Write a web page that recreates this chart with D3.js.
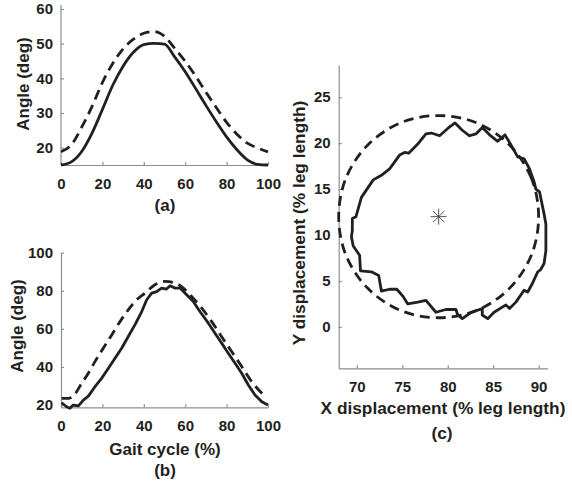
<!DOCTYPE html>
<html><head><meta charset="utf-8">
<script src="https://cdn.jsdelivr.net/npm/d3@7"></script>
<style>
html,body{margin:0;padding:0;background:#fff;}
svg{display:block;}
text{font-family:"Liberation Sans",Arial,sans-serif;font-weight:bold;fill:#231f20;}
</style></head>
<body><svg id="c" width="572" height="489"></svg>
<script>
// ---- Panel (a): angle vs gait cycle ----
const aX = [0,5,10,15,20,25,30,35,40,45,50,55,60,65,70,75,80,85,90,95,100];
const aSolid = [15.0,15.9,18.9,24.2,31.0,38.0,43.5,47.5,49.7,50.1,49.9,46.1,41.9,37.1,32.2,27.5,23.1,19.4,16.5,15.2,15.0];
const aDashed = [18.8,20.8,25.9,31.9,38.8,44.3,48.5,51.3,53.0,53.5,52.1,48.6,44.9,40.7,36.0,31.6,27.3,23.9,21.3,19.9,18.8];
const aXTicks = [0,20,40,60,80,100];
const aYTicks = [20,30,40,50,60];

// ---- Panel (b) ----
const bSolidX = [0.3,2.7,4.3,5.9,8.4,10.8,13.2,16.4,19.6,22.9,26.1,29.3,32.5,35.7,39.0,41.4,43.8,46.2,48.6,51.0,52.7,55.1,57.5,60.7,63.9,67.1,71.2,74.4,77.6,80.8,84.1,87.3,90.5,93.7,97.0,100];
const bSolidY = [21.2,19.1,18.3,20.0,19.5,22.6,24.7,29.6,34.0,39.3,44.6,49.8,56.0,62.1,69.1,75.3,78.8,79.6,81.4,80.9,82.6,81.4,81.4,77.9,74.4,69.1,63.0,57.7,52.5,47.2,41.9,36.7,30.5,25.3,21.7,20.0];
const bDashedX = [0.3,3.5,5.9,10.0,13.2,16.4,20.4,24.5,28.5,32.5,36.6,40.6,45.4,50.2,55.1,59.1,63.1,68.0,72.8,77.6,82.5,87.3,92.1,97.0,98.6];
const bDashedY = [23.5,23.5,24.7,31.4,36.7,42.8,49.8,56.8,63.8,70.0,75.3,78.8,83.2,84.9,84.1,81.4,77.0,70.9,63.8,55.9,48.0,40.2,32.3,26.2,24.4];
const bXTicks = [0,20,40,60,80,100];
const bYTicks = [20,40,60,80,100];

// ---- Panel (c): foot trajectory ----
const cSolidX = [69.9,70.5,71.8,72.7,73.6,74.7,75.3,75.7,76.7,77.6,78.2,79.1,80.0,80.8,81.6,82.4,83.1,83.8,84.6,85.5,86.3,86.9,87.7,88.4,89.0,89.5,89.7,90.1,90.6,90.8,90.8,90.8,90.6,90.2,89.9,89.3,88.8,88.4,87.5,86.8,86.4,85.1,84.4,83.8,83.8,82.6,81.6,81.1,80.9,79.8,78.7,77.6,76.7,75.6,75.1,74.4,73.6,72.7,72.4,71.6,70.4,70.3,69.6,69.4,69.5,69.5];
const cSolidY = [12.0,14.1,16.0,16.5,17.2,18.7,19.0,18.9,19.9,21.0,21.1,20.8,21.6,22.2,21.4,20.8,21.0,21.7,20.9,20.2,20.9,19.9,18.5,18.3,17.2,15.8,15.0,14.7,12.3,11.2,10.5,8.3,6.9,6.2,6.0,4.7,3.8,4.0,2.7,2.0,2.4,1.6,0.9,1.3,2.0,1.6,0.9,1.3,1.9,1.9,1.6,2.9,2.7,2.5,3.3,4.1,4.1,3.9,5.6,6.0,6.1,7.8,8.8,9.8,10.5,11.8];
const cDashedX = [90.0,89.2,86.8,83.2,79.0,74.8,71.2,68.8,68.0,68.8,71.2,74.8,79.0,83.2,86.8,89.2];
const cDashedY = [12.0,16.2,19.8,22.2,23.0,22.2,19.8,16.2,12.0,7.8,4.2,1.8,1.0,1.8,4.2,7.8];
const cCenter = [79, 12];
const cXTicks = [70,75,80,85,90];
const cYTicks = [0,5,10,15,20,25];

const svg = d3.select("#c");
const ink = "#231f20", axisCol = "#8e8e8e";

function drawAxes(x, y, xt, yt, yTop) {
  const gx = svg.append("g").attr("transform", `translate(0,${y.range()[0]})`)
    .call(d3.axisBottom(x).tickValues(xt).tickSize(-3).tickSizeOuter(0).tickPadding(13).tickFormat(d3.format("d")));
  const gy = svg.append("g").attr("transform", `translate(${x.range()[0]},0)`)
    .call(d3.axisLeft(y).tickValues(yt).tickSize(-3).tickSizeOuter(0).tickPadding(8).tickFormat(d3.format("d")));
  [gx, gy].forEach(g => {
    g.select(".domain").attr("stroke", axisCol).attr("stroke-width", 1.2);
    g.selectAll(".tick line").attr("stroke", axisCol).attr("stroke-width", 1.2);
    g.selectAll(".tick text").attr("fill", ink).style("font-size", "15px").style("font-family", '"Liberation Sans",Arial,sans-serif').style("font-weight", "bold");
  });
  if (yTop !== undefined) {
    gy.select(".domain").attr("d", `M0,${y.range()[0]}V${yTop}`);
  }
}

function pathXY(xs, ys, x, y, curve, dashed) {
  const pts = xs.map((v, i) => [v, ys[i]]);
  svg.append("path").datum(pts)
    .attr("d", d3.line().x(d => x(d[0])).y(d => y(d[1])).curve(curve))
    .attr("fill", "none").attr("stroke", ink).attr("stroke-width", 2.8)
    .attr("stroke-linejoin", "round")
    .attr("stroke-dasharray", dashed ? "10,6" : null);
}

function label(txt, x, y, size, rot) {
  const t = svg.append("text").text(txt).attr("text-anchor", "middle").style("font-size", size + "px");
  if (rot) t.attr("transform", `translate(${x},${y}) rotate(-90)`);
  else t.attr("x", x).attr("y", y);
}

// Panel (a)
const xA = d3.scaleLinear().domain([0,100]).range([61,268]);
const yA = d3.scaleLinear().domain([15,60]).range([165,9]);
drawAxes(xA, yA, aXTicks, aYTicks, 5);
pathXY(aX, aDashed, xA, yA, d3.curveMonotoneX, true);
pathXY(aX, aSolid, xA, yA, d3.curveMonotoneX, false);
label("Angle (deg)", 29, 84, 17, true);
label("(a)", 165, 211, 17);

// Panel (b)
const xB = d3.scaleLinear().domain([0,100]).range([61,268]);
const yB = d3.scaleLinear().domain([18.8,100]).range([407.3,252.7]);
drawAxes(xB, yB, bXTicks, bYTicks);
pathXY(bDashedX, bDashedY, xB, yB, d3.curveMonotoneX, true);
pathXY(bSolidX, bSolidY, xB, yB, d3.curveLinear, false);
label("Angle (deg)", 23, 326, 17, true);
label("Gait cycle (%)", 165, 455, 17);
label("(b)", 165, 476, 17);

// Panel (c)
const xC = d3.scaleLinear().domain([68,91]).range([338.7,547.7]);
const yC = d3.scaleLinear().domain([-4.5,28.5]).range([368.3,65]);
drawAxes(xC, yC, cXTicks, cYTicks);
pathXY(cDashedX, cDashedY, xC, yC, d3.curveCardinalClosed, true);
pathXY(cSolidX, cSolidY, xC, yC, d3.curveLinearClosed, false);
// asterisk marker at the centre
const cx = xC(cCenter[0]), cy = yC(cCenter[1]);
[0,45,90,135].forEach(a => {
  const r = 8, rad = a * Math.PI / 180;
  svg.append("line").attr("x1", cx - r*Math.cos(rad)).attr("y1", cy - r*Math.sin(rad))
    .attr("x2", cx + r*Math.cos(rad)).attr("y2", cy + r*Math.sin(rad))
    .attr("stroke", "#555").attr("stroke-width", 1);
});
label("Y displacement (% leg length)", 305, 223, 17.3, true);
label("X displacement (% leg length)", 443, 414, 17.3);
label("(c)", 442, 439, 17.3);
</script></body></html>
